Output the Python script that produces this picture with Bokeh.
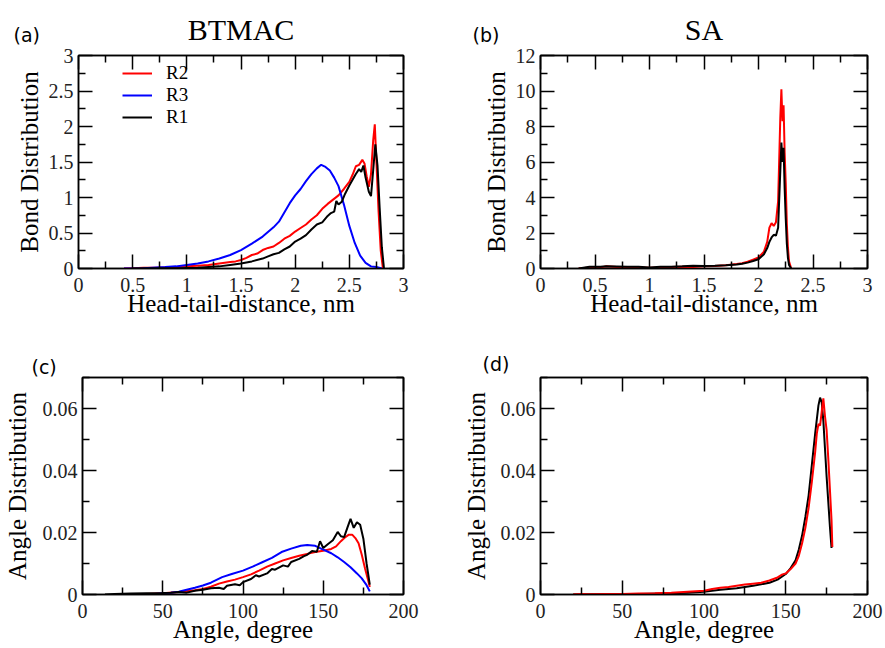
from bokeh.plotting import figure
from bokeh.models import Range1d, FixedTicker, LinearAxis, Label, Legend, LegendItem
from bokeh.layouts import column, row
from bokeh.embed import file_html
from bokeh.resources import INLINE

SERIF = "Liberation Serif"
TAGFONT = "DejaVu Sans"

# ---------------- tick definitions ----------------
dist_ticks = [0, 0.5, 1, 1.5, 2, 2.5, 3]
dist_tick_labels = ["0", "0.5", "1", "1.5", "2", "2.5", "3"]
dist_minor = [0.25, 0.75, 1.25, 1.75, 2.25, 2.75]

btmac_bond_ticks = [0, 0.5, 1, 1.5, 2, 2.5, 3]
btmac_bond_labels = ["0", "0.5", "1", "1.5", "2", "2.5", "3"]
btmac_bond_minor = [0.25, 0.75, 1.25, 1.75, 2.25, 2.75]

sa_bond_ticks = [0, 2, 4, 6, 8, 10, 12]
sa_bond_labels = ["0", "2", "4", "6", "8", "10", "12"]
sa_bond_minor = [1, 3, 5, 7, 9, 11]

angle_ticks = [0, 50, 100, 150, 200]
angle_labels = ["0", "50", "100", "150", "200"]
angle_minor = [25, 75, 125, 175]

angdist_ticks = [0, 0.02, 0.04, 0.06]
angdist_labels = ["0", "0.02", "0.04", "0.06"]
angdist_minor = [0.01, 0.03, 0.05, 0.07]

# ---------------- (a) BTMAC head-tail distance ----------------
a_r2_x = [0.42, 0.5, 0.6, 0.7, 0.8, 0.9, 1.0, 1.1, 1.2, 1.3, 1.4, 1.45, 1.5, 1.55, 1.6, 1.65,
          1.7, 1.75, 1.8, 1.85, 1.9, 1.95, 2.0, 2.05, 2.1, 2.15, 2.2, 2.25, 2.3, 2.35, 2.4,
          2.45, 2.5, 2.53, 2.56, 2.59, 2.62, 2.64, 2.66, 2.68, 2.70, 2.72, 2.735, 2.75, 2.77,
          2.79, 2.81]
a_r2_y = [0.0, 0.005, 0.01, 0.01, 0.015, 0.02, 0.03, 0.04, 0.05, 0.07, 0.09, 0.10, 0.12, 0.15,
          0.19, 0.21, 0.26, 0.29, 0.31, 0.36, 0.42, 0.46, 0.52, 0.57, 0.62, 0.69, 0.75, 0.84,
          0.91, 0.97, 1.03, 1.12, 1.22, 1.32, 1.44, 1.46, 1.53, 1.48, 1.30, 1.15, 1.33, 1.80,
          2.03, 1.50, 0.80, 0.25, 0.0]

a_r3_x = [0.42, 0.6, 0.8, 0.9, 1.0, 1.1, 1.2, 1.3, 1.4, 1.5, 1.6, 1.7, 1.8, 1.85, 1.9, 1.95,
          2.0, 2.05, 2.1, 2.15, 2.2, 2.24, 2.28, 2.32, 2.36, 2.4, 2.45, 2.5, 2.55, 2.6, 2.65,
          2.7, 2.75, 2.8]
a_r3_y = [0.0, 0.005, 0.02, 0.03, 0.05, 0.07, 0.10, 0.14, 0.19, 0.26, 0.35, 0.45, 0.58, 0.66,
          0.79, 0.92, 1.03, 1.12, 1.23, 1.33, 1.41, 1.46, 1.43, 1.38, 1.28, 1.16, 0.90, 0.60,
          0.36, 0.18, 0.08, 0.03, 0.02, 0.0]

a_r1_x = [0.5, 0.7, 0.9, 1.1, 1.2, 1.3, 1.4, 1.5, 1.6, 1.7, 1.75, 1.8, 1.85, 1.9, 1.95, 2.0,
          2.05, 2.1, 2.15, 2.2, 2.25, 2.3, 2.33, 2.36, 2.38, 2.4, 2.43, 2.46, 2.5, 2.53, 2.56,
          2.59, 2.61, 2.63, 2.65, 2.68, 2.70, 2.72, 2.74, 2.76, 2.78, 2.80, 2.82]
a_r1_y = [0.0, 0.005, 0.005, 0.01, 0.02, 0.03, 0.05, 0.07, 0.10, 0.14, 0.17, 0.20, 0.22, 0.27,
          0.31, 0.38, 0.42, 0.47, 0.55, 0.62, 0.65, 0.74, 0.78, 0.80, 0.95, 0.90, 0.94, 1.05,
          1.17, 1.25, 1.33, 1.40, 1.36, 1.45, 1.28, 1.08, 1.02, 1.38, 1.75, 1.45, 0.85, 0.30,
          0.0]

# ---------------- (b) SA head-tail distance ----------------
b_x = [0.35, 0.45, 0.55, 0.6, 0.7, 0.8, 0.9, 1.0, 1.1, 1.2, 1.3, 1.4, 1.5, 1.6, 1.7, 1.8,
       1.85, 1.9, 1.95, 2.0, 2.05, 2.08, 2.1, 2.12, 2.14, 2.16, 2.18, 2.2, 2.21, 2.22, 2.23,
       2.24, 2.25, 2.26, 2.27, 2.28, 2.3]
b_r2_y = [0.0, 0.05, 0.06, 0.12, 0.08, 0.05, 0.05, 0.04, 0.06, 0.08, 0.10, 0.09, 0.12, 0.14,
          0.18, 0.25, 0.30, 0.38, 0.50, 0.62, 0.95, 1.50, 2.30, 2.55, 2.40, 2.60, 3.80, 8.50,
          10.1, 8.30, 9.20, 6.50, 4.80, 2.50, 1.20, 0.40, 0.0]
b_r1_y = [0.0, 0.10, 0.10, 0.12, 0.11, 0.10, 0.10, 0.06, 0.10, 0.10, 0.12, 0.15, 0.14, 0.15,
          0.18, 0.22, 0.27, 0.33, 0.42, 0.52, 0.80, 1.15, 1.50, 1.75, 1.90, 1.85, 2.30, 5.50,
          7.10, 6.00, 6.80, 4.50, 2.80, 1.40, 0.60, 0.20, 0.0]

# ---------------- (c) BTMAC angle ----------------
c_r2_x = [30, 40, 50, 60, 70, 75, 80, 85, 90, 95, 100, 105, 110, 115, 120, 125, 130, 135, 140,
          145, 150, 155, 158, 161, 164, 166, 168, 170, 172, 174, 176, 178, 179]
c_r2_y = [0.0, 0.0002, 0.0004, 0.0008, 0.0014, 0.0018, 0.0025, 0.0035, 0.0042, 0.0048, 0.0056,
          0.0065, 0.0077, 0.0090, 0.0100, 0.0110, 0.0118, 0.0125, 0.0131, 0.0137, 0.0141,
          0.0147, 0.0155, 0.0172, 0.0186, 0.0193, 0.0193, 0.0182, 0.0165, 0.0128, 0.0085,
          0.0045, 0.0024]

c_r3_x = [38, 45, 50, 55, 60, 63, 70, 75, 80, 87, 93, 100, 106, 112, 118, 124, 130, 136, 140,
          145, 150, 155, 159, 163, 167, 171, 174, 177, 179]
c_r3_y = [0.0, 0.0002, 0.0004, 0.0006, 0.0009, 0.0013, 0.0022, 0.0029, 0.0038, 0.0056, 0.0066,
          0.0077, 0.0090, 0.0104, 0.0118, 0.0137, 0.0148, 0.0157, 0.0160, 0.0157, 0.0145,
          0.0133, 0.0120, 0.0105, 0.0088, 0.0068, 0.0052, 0.0030, 0.0010]

c_r1_x = [14, 20, 30, 40, 50, 55, 60, 65, 70, 75, 80, 85, 88, 90, 95, 98, 100, 105, 108, 110,
          115, 118, 120, 125, 128, 130, 135, 138, 140, 143, 146, 148, 150, 153, 156, 159, 161,
          163, 165, 167, 169, 171, 173, 175, 177, 179]
c_r1_y = [0.0, 0.0002, 0.0003, 0.0004, 0.0005, 0.0006, 0.0008, 0.0006, 0.0012, 0.0015, 0.0020,
          0.0022, 0.0018, 0.0028, 0.0033, 0.0030, 0.0040, 0.0050, 0.0062, 0.0058, 0.0068,
          0.0082, 0.0080, 0.0094, 0.0090, 0.0105, 0.0115, 0.0124, 0.0128, 0.0140, 0.0138,
          0.0172, 0.0150, 0.0163, 0.0175, 0.0202, 0.0188, 0.0185, 0.0215, 0.0244, 0.0215,
          0.0233, 0.0225, 0.0180, 0.0100, 0.0032]

# ---------------- (d) SA angle ----------------
d_r1_x = [20, 40, 60, 80, 90, 100, 110, 120, 130, 140, 145, 150, 153, 156, 158, 160, 162, 164,
          166, 168, 170, 171, 172, 173, 174, 175, 176, 177, 178]
d_r1_y = [0.0, 0.0001, 0.0002, 0.0004, 0.0006, 0.0009, 0.0015, 0.0020, 0.0028, 0.0038, 0.0048,
          0.0066, 0.0085, 0.0110, 0.0145, 0.0190, 0.0250, 0.0320, 0.0420, 0.0520, 0.0610,
          0.0635, 0.0620, 0.0560, 0.0470, 0.0380, 0.0300, 0.0220, 0.0150]

d_r2_x = [20, 25, 30, 40, 50, 60, 70, 80, 90, 100, 105, 110, 115, 120, 125, 130, 135, 140, 145,
          148, 150, 153, 156, 158, 160, 162, 164, 166, 168, 169, 170, 171, 172, 173, 174, 175,
          176, 177, 178, 178.5]
d_r2_y = [0.0, 0.0002, 0.0001, 0.0002, 0.0002, 0.0003, 0.0004, 0.0006, 0.0009, 0.0012, 0.0018,
          0.0022, 0.0024, 0.0028, 0.0032, 0.0035, 0.0038, 0.0045, 0.0055, 0.0065, 0.0068,
          0.0082, 0.0100, 0.0125, 0.0165, 0.0215, 0.0280, 0.0365, 0.0460, 0.0520, 0.0550,
          0.0545, 0.0590, 0.0633, 0.0575, 0.0530, 0.0440, 0.0340, 0.0240, 0.0153]

RED, BLUE, BLACK = "#ff0000", "#0000ff", "#000000"
LW = 2


def style_axis(ax, ticks, labels, minor, show):
    ax.ticker = FixedTicker(ticks=ticks, minor_ticks=minor)
    ax.major_tick_in = 14
    ax.major_tick_out = 0
    ax.minor_tick_in = 7
    ax.minor_tick_out = 0
    ax.major_tick_line_width = 1.5
    ax.minor_tick_line_width = 1.5
    ax.major_tick_line_color = "black"
    ax.minor_tick_line_color = "black"
    ax.axis_line_width = 1.5
    ax.axis_line_color = "black"
    if show:
        ax.major_label_overrides = dict(zip(ticks, labels))
        ax.major_label_text_font = SERIF
        ax.major_label_text_font_size = "20px"
        ax.major_label_text_color = "#222222"
    else:
        ax.major_label_overrides = {t: "" for t in ticks}
        ax.major_label_text_font_size = "0px"
        ax.major_label_standoff = 0


def make_panel(width, height, borders, xr, yr, xt, yt, xlabel, ylabel, title, tag, tag_xy,
               ylabel_standoff):
    left, right, top, bottom = borders
    p = figure(width=width, height=height, x_range=Range1d(*xr), y_range=Range1d(*yr),
               output_backend="svg", toolbar_location=None,
               min_border_left=left, min_border_right=right,
               min_border_top=top, min_border_bottom=bottom)
    p.xgrid.visible = False
    p.ygrid.visible = False
    p.outline_line_color = "black"
    p.outline_line_width = 1.5
    p.background_fill_color = "white"
    p.border_fill_color = "white"

    bx = p.xaxis[0]
    ly = p.yaxis[0]
    tx = LinearAxis()
    ry = LinearAxis()
    p.add_layout(tx, "above")
    p.add_layout(ry, "right")
    style_axis(bx, *xt, True)
    style_axis(tx, *xt, False)
    style_axis(ly, *yt, True)
    style_axis(ry, *yt, False)
    bx.major_label_standoff = 9
    ly.major_label_standoff = 5

    for ax, lab in ((bx, xlabel), (ly, ylabel)):
        ax.axis_label = lab
        ax.axis_label_text_font = SERIF
        ax.axis_label_text_font_size = "25px"
        ax.axis_label_text_font_style = "normal"
        ax.axis_label_text_color = "black"
    bx.axis_label_standoff = -5
    ly.axis_label_standoff = ylabel_standoff

    fw = width - left - right
    if title:
        p.add_layout(Label(x=fw / 2, y=26, x_units="screen", y_units="screen",
                           text=title, text_font=SERIF, text_font_size="30px",
                           text_align="center", text_baseline="alphabetic",
                           text_color="black"), "above")
    p.add_layout(Label(x=tag_xy[0], y=tag_xy[1], x_units="screen", y_units="screen",
                       text=tag, text_font=TAGFONT, text_font_size="19px",
                       text_align="left", text_baseline="alphabetic", text_color="black"),
                 "above")
    return p


# layout geometry (left, right, top, bottom borders)
pa = make_panel(440, 328, (78, 37, 52, 60), (0, 3), (0, 3),
                (dist_ticks, dist_tick_labels, dist_minor),
                (btmac_bond_ticks, btmac_bond_labels, btmac_bond_minor),
                "Head-tail-distance, nm", "Bond Distribution", "BTMAC", "(a)", (-65, -12), 3)
pb = make_panel(444, 328, (100, 17, 52, 60), (0, 3), (0, 12),
                (dist_ticks, dist_tick_labels, dist_minor),
                (sa_bond_ticks, sa_bond_labels, sa_bond_minor),
                "Head-tail-distance, nm", "Bond Distribution", "SA", "(b)", (-68, -12), 3)
pc = make_panel(440, 318, (78, 37, 49, 52), (0, 200), (0, 0.07),
                (angle_ticks, angle_labels, angle_minor),
                (angdist_ticks, angdist_labels, angdist_minor),
                "Angle, degree", "Angle Distribution", None, "(c)", (-51, 11), 9)
pd_ = make_panel(444, 318, (100, 17, 49, 52), (0, 200), (0, 0.07),
                 (angle_ticks, angle_labels, angle_minor),
                 (angdist_ticks, angdist_labels, angdist_minor),
                 "Angle, degree", "Angle Distribution", None, "(d)", (-58, 14), 8)

# (a)
ra2 = pa.line(a_r2_x, a_r2_y, line_color=RED, line_width=LW)
ra3 = pa.line(a_r3_x, a_r3_y, line_color=BLUE, line_width=LW)
ra1 = pa.line(a_r1_x, a_r1_y, line_color=BLACK, line_width=LW)
legend = Legend(items=[LegendItem(label="R2", renderers=[ra2]),
                       LegendItem(label="R3", renderers=[ra3]),
                       LegendItem(label="R1", renderers=[ra1])],
                location=(44, 140), margin=0, padding=0, spacing=0,
                glyph_width=30, glyph_height=22, label_height=22, label_standoff=14,
                label_text_font=SERIF, label_text_font_size="19px",
                label_text_color="black",
                border_line_color=None, background_fill_alpha=0)
pa.add_layout(legend, "center")

# (b)
pb.line(b_x, b_r2_y, line_color=RED, line_width=LW)
pb.line(b_x, b_r1_y, line_color=BLACK, line_width=LW)

# (c)
pc.line(c_r2_x, c_r2_y, line_color=RED, line_width=LW)
pc.line(c_r3_x, c_r3_y, line_color=BLUE, line_width=LW)
pc.line(c_r1_x, c_r1_y, line_color=BLACK, line_width=LW)

# (d)
pd_.line(d_r1_x, d_r1_y, line_color=BLACK, line_width=LW)
pd_.line(d_r2_x, d_r2_y, line_color=RED, line_width=LW)

layout = column(row(pa, pb), row(pc, pd_))
open("out.html", "w").write(file_html(layout, INLINE))
